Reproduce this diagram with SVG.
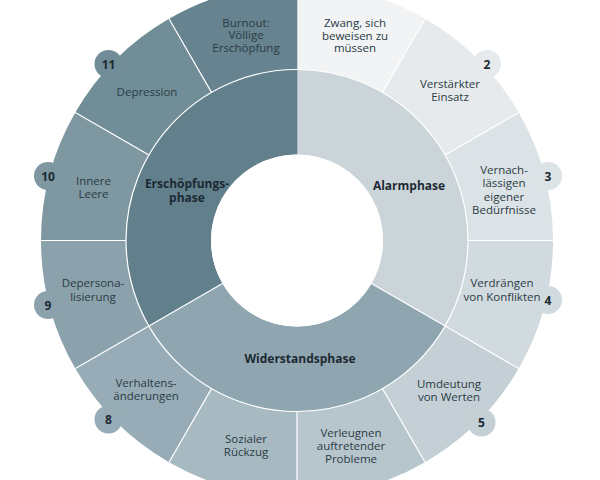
<svg xmlns="http://www.w3.org/2000/svg" width="600" height="480" viewBox="0 0 600 480">
<style>
.lbl{font-family:"Open Sans","Noto Sans",sans-serif;font-size:11.5px;fill:#2b3b45;text-anchor:middle}
.ph{font-family:"Open Sans","Noto Sans",sans-serif;font-size:12px;font-weight:bold;fill:#1c2a33;text-anchor:middle}
.num{font-family:"Open Sans","Noto Sans",sans-serif;font-size:12px;font-weight:bold;fill:#1c2a33;text-anchor:middle}
.div{stroke:#ffffff;stroke-width:1.2;fill:none}
</style>
<rect width="600" height="480" fill="#ffffff"/>
<g id="outer-ring">
<g id="s1"><path fill="#f1f3f4" d="M297,-15.5 A256,256 0 0 1 425,18.8 L382.5,92.41 A171,171 0 0 0 297,69.5 Z"/>
<text class="lbl" x="355" y="27">Zwang, sich<tspan x="355" dy="12.5">beweisen zu</tspan><tspan x="355" dy="12.5">müssen</tspan></text></g>
<g id="s2"><path fill="#e6eaec" d="M425,18.8 A256,256 0 0 1 518.7,112.5 L445.09,155 A171,171 0 0 0 382.5,92.41 Z"/>
<circle cx="487" cy="64" r="14" fill="#e6eaec"/><text class="num" x="487" y="69">2</text>
<text class="lbl" x="450" y="88">Verstärkter<tspan x="450" dy="12.7">Einsatz</tspan></text></g>
<g id="s3"><path fill="#dce3e6" d="M518.7,112.5 A256,256 0 0 1 553,240.5 L468,240.5 A171,171 0 0 0 445.09,155 Z"/>
<circle cx="548" cy="176" r="14" fill="#dce3e6"/><text class="num" x="548" y="180.5">3</text>
<text class="lbl" x="504" y="174">Vernach-<tspan x="504" dy="13.3">lässigen</tspan><tspan x="504" dy="13.3">eigener</tspan><tspan x="504" dy="13.3">Bedürfnisse</tspan></text></g>
<g id="s4"><path fill="#d1dadf" d="M553,240.5 A256,256 0 0 1 518.7,368.5 L445.09,326 A171,171 0 0 0 468,240.5 Z"/>
<circle cx="548" cy="300" r="14" fill="#d1dadf"/><text class="num" x="548" y="304.5">4</text>
<text class="lbl" x="502" y="287.3">Verdrängen<tspan x="502" dy="13.4">von Konflikten</tspan></text></g>
<g id="s5"><path fill="#c4d0d5" d="M518.7,368.5 A256,256 0 0 1 425,462.2 L382.5,388.59 A171,171 0 0 0 445.09,326 Z"/>
<circle cx="481.5" cy="422.5" r="14" fill="#c4d0d5"/><text class="num" x="481.5" y="427">5</text>
<text class="lbl" x="449" y="388.3">Umdeutung<tspan x="449" dy="12.6">von Werten</tspan></text></g>
<g id="s6"><path fill="#b7c6cd" d="M425,462.2 A256,256 0 0 1 297,496.5 L297,411.5 A171,171 0 0 0 382.5,388.59 Z"/>
<text class="lbl" x="351" y="436.7">Verleugnen<tspan x="351" dy="13.3">auftretender</tspan><tspan x="351" dy="13.3">Probleme</tspan></text></g>
<g id="s7"><path fill="#a7b9c1" d="M297,496.5 A256,256 0 0 1 169,462.2 L211.5,388.59 A171,171 0 0 0 297,411.5 Z"/>
<text class="lbl" x="246" y="443">Sozialer<tspan x="246" dy="13">Rückzug</tspan></text></g>
<g id="s8"><path fill="#97acb6" d="M169,462.2 A256,256 0 0 1 75.3,368.5 L148.91,326 A171,171 0 0 0 211.5,388.59 Z"/>
<circle cx="108.5" cy="419.5" r="14" fill="#97acb6"/><text class="num" x="108.5" y="424">8</text>
<text class="lbl" x="146" y="386.7">Verhaltens-<tspan x="146" dy="12.8">änderungen</tspan></text></g>
<g id="s9"><path fill="#8ba2ac" d="M75.3,368.5 A256,256 0 0 1 41,240.5 L126,240.5 A171,171 0 0 0 148.91,326 Z"/>
<circle cx="48" cy="305" r="14" fill="#8ba2ac"/><text class="num" x="48" y="309.5">9</text>
<text class="lbl" x="93" y="287.3">Depersona-<tspan x="93" dy="13.4">lisierung</tspan></text></g>
<g id="s10"><path fill="#7e97a1" d="M41,240.5 A256,256 0 0 1 75.3,112.5 L148.91,155 A171,171 0 0 0 126,240.5 Z"/>
<circle cx="48" cy="176" r="14" fill="#7e97a1"/><text class="num" x="48" y="180.5">10</text>
<text class="lbl" x="93.5" y="185">Innere<tspan x="93.5" dy="13.3">Leere</tspan></text></g>
<g id="s11"><path fill="#718d98" d="M75.3,112.5 A256,256 0 0 1 169,18.8 L211.5,92.41 A171,171 0 0 0 148.91,155 Z"/>
<circle cx="108.5" cy="64" r="14" fill="#718d98"/><text class="num" x="108.5" y="68.5">11</text>
<text class="lbl" x="147" y="96">Depression</text></g>
<g id="s12"><path fill="#66838f" d="M169,18.8 A256,256 0 0 1 297.3,-15.5 L297.3,69.5 A171,171 0 0 0 211.5,92.41 Z"/>
<text class="lbl" x="246" y="26.5">Burnout:<tspan x="246" dy="12.5">Völlige</tspan><tspan x="246" dy="12.5">Erschöpfung</tspan></text></g>
</g>
<g id="inner-ring">
<g id="alarmphase"><path fill="#cbd5d9" d="M297,69.5 A171,171 0 0 1 445.09,326 L371.48,283.5 A86,86 0 0 0 297,154.5 Z"/>
<text class="ph" x="409" y="190">Alarmphase</text></g>
<g id="widerstandsphase"><path fill="#8fa6b0" d="M445.09,326 A171,171 0 0 1 148.91,326 L222.52,283.5 A86,86 0 0 0 371.48,283.5 Z"/>
<text class="ph" x="300" y="362.5">Widerstandsphase</text></g>
<g id="erschoepfungsphase"><path fill="#62808c" d="M148.91,326 A171,171 0 0 1 297.3,69.5 L297.3,154.5 A86,86 0 0 0 222.52,283.5 Z"/>
<text class="ph" x="187" y="187.5">Erschöpfungs-<tspan x="187" dy="14">phase</tspan></text></g>
</g>
<g id="dividers" class="div">
<circle cx="297" cy="240.5" r="171"/>
<path d="M382.5,92.41 L425,18.8 M445.09,155 L518.7,112.5 M468,240.5 L553,240.5 M445.09,326 L518.7,368.5 M382.5,388.59 L425,462.2 M297,411.5 L297,496.5 M211.5,388.59 L169,462.2 M148.91,326 L75.3,368.5 M126,240.5 L41,240.5 M148.91,155 L75.3,112.5 M211.5,92.41 L169,18.8"/>
<path d="M371.48,283.5 L445.09,326 M222.52,283.5 L148.91,326"/>
</g>
<circle cx="297" cy="240.5" r="86" fill="#ffffff"/>
</svg>
